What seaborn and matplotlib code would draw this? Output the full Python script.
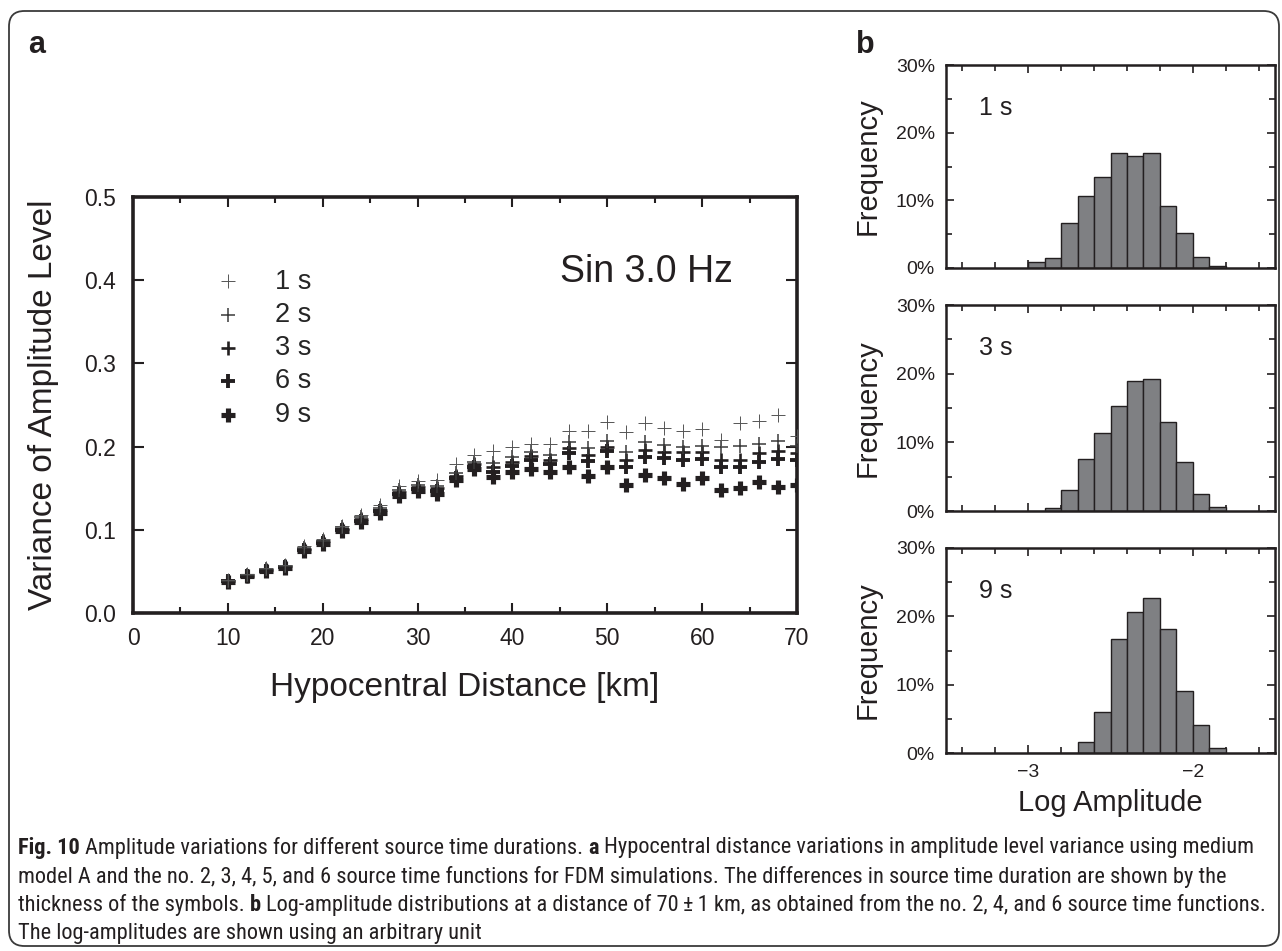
import numpy as np
import pandas as pd
import matplotlib
matplotlib.use("Agg")
import matplotlib.pyplot as plt
import seaborn as sns
from matplotlib.ticker import MultipleLocator, FixedLocator, PercentFormatter, FormatStrFormatter
from matplotlib.patches import FancyBboxPatch
from matplotlib import font_manager

# ---------------- data ----------------
distance_km = [10, 12, 14, 16, 18, 20, 22, 24, 26, 28, 30, 32, 34, 36, 38, 40,
               42, 44, 46, 48, 50, 52, 54, 56, 58, 60, 62, 64, 66, 68, 70]

var_1s = [0.040, 0.047, 0.054, 0.058, 0.080, 0.089, 0.105, 0.118, 0.130, 0.153, 0.159,
          0.160, 0.179, 0.190, 0.195, 0.199, 0.203, 0.203, 0.219, 0.219, 0.229, 0.218,
          0.228, 0.222, 0.219, 0.221, 0.208, 0.228, 0.231, 0.238, 0.213]
var_2s = [0.039, 0.046, 0.053, 0.057, 0.078, 0.087, 0.103, 0.115, 0.126, 0.148, 0.154,
          0.153, 0.168, 0.182, 0.180, 0.187, 0.193, 0.190, 0.205, 0.198, 0.207, 0.193,
          0.205, 0.202, 0.200, 0.201, 0.200, 0.201, 0.203, 0.207, 0.201]
var_3s = [0.039, 0.045, 0.052, 0.056, 0.077, 0.086, 0.101, 0.113, 0.124, 0.145, 0.151,
          0.150, 0.165, 0.179, 0.175, 0.182, 0.189, 0.184, 0.198, 0.190, 0.199, 0.184,
          0.196, 0.194, 0.193, 0.193, 0.184, 0.184, 0.192, 0.195, 0.192]
var_6s = [0.038, 0.045, 0.051, 0.055, 0.076, 0.084, 0.100, 0.111, 0.122, 0.143, 0.149,
          0.147, 0.162, 0.176, 0.170, 0.177, 0.184, 0.179, 0.192, 0.183, 0.195, 0.175,
          0.187, 0.186, 0.184, 0.185, 0.176, 0.176, 0.182, 0.185, 0.184]
var_9s = [0.037, 0.044, 0.050, 0.054, 0.075, 0.083, 0.099, 0.109, 0.120, 0.141, 0.147,
          0.143, 0.160, 0.173, 0.163, 0.169, 0.173, 0.170, 0.175, 0.165, 0.175, 0.154,
          0.166, 0.162, 0.155, 0.162, 0.148, 0.150, 0.157, 0.152, 0.154]

durations = ["1 s", "2 s", "3 s", "6 s", "9 s"]

bin_edges = [-3.0, -2.9, -2.8, -2.7, -2.6, -2.5, -2.4, -2.3, -2.2, -2.1, -2.0, -1.9, -1.8]
bin_centers = [-2.95, -2.85, -2.75, -2.65, -2.55, -2.45, -2.35, -2.25, -2.15, -2.05, -1.95, -1.85]
freq_1s = [0.9, 1.5, 6.6, 10.6, 13.5, 17.0, 16.5, 17.0, 9.2, 5.2, 1.6, 0.3]
freq_3s = [0.0, 0.5, 3.1, 7.6, 11.4, 15.3, 19.0, 19.2, 12.9, 7.2, 2.5, 0.6]
freq_9s = [0.0, 0.0, 0.0, 1.6, 6.0, 16.7, 20.7, 22.7, 18.2, 9.1, 4.1, 0.8]
hist_labels = ["1 s", "3 s", "9 s"]

caption_lines = [
    [("Fig. 10", "bold"), ("Amplitude variations for different source time durations.", "normal"),
     ("a", "bold"), ("Hypocentral distance variations in amplitude level variance using medium", "normal")],
    [("model A and the no. 2, 3, 4, 5, and 6 source time functions for FDM simulations. "
      "The differences in source time duration are shown by the", "normal")],
    [("thickness of the symbols.", "normal"), ("b", "bold"),
     ("Log-amplitude distributions at a distance of 70\u2009\u00b1\u20091 km, as obtained from the no. 2, 4, and 6 "
      "source time functions.", "normal")],
    [("The log-amplitudes are shown using an arbitrary unit", "normal")],
]

# ---------------- style ----------------
sns.set_theme(style="ticks")
entries = font_manager.fontManager.ttflist
avail = {f.name for f in entries}
main_font = "Liberation Sans" if "Liberation Sans" in avail else "DejaVu Sans"

COND = ("condensed", "semi-condensed", "extra-condensed")


def wnum(w):
    if isinstance(w, (int, float)):
        return int(w)
    return {"normal": 400, "regular": 400, "book": 400, "bold": 700}.get(str(w).lower(), 0)


def is_cond(f):
    return str(f.stretch) in COND or "Narrow" in f.name or "Condensed" in f.name


regular = [f for f in entries if is_cond(f) and wnum(f.weight) == 400 and f.style == "normal"]
bold = [f for f in entries if is_cond(f) and wnum(f.weight) == 700 and f.style == "normal"]
cap_font, cap_stretch = main_font, "normal"
pref = ["Liberation Sans Narrow", "Open Sans", "Noto Sans", "Roboto", "Open Sans Condensed",
        "Roboto Condensed", "Inter"]
cands = sorted(regular, key=lambda f: pref.index(f.name) if f.name in pref else 99)
for f in cands:
    if any(b.name == f.name and str(b.stretch) == str(f.stretch) for b in bold):
        cap_font = f.name
        cap_stretch = str(f.stretch) if str(f.stretch) in COND else "normal"
        break

plt.rcParams["font.family"] = [main_font, "DejaVu Sans"]
INK = "#231f20"

W, H = 1282, 951
fig = plt.figure(figsize=(W / 100, H / 100), dpi=100)
fig.patch.set_facecolor("white")


def fax(x0, y0, x1, y1):
    return [x0 / W, 1 - y1 / H, (x1 - x0) / W, (y1 - y0) / H]


# ---------------- panel a ----------------
ax = fig.add_axes(fax(133, 197, 797, 613))
series = [var_1s, var_2s, var_3s, var_6s, var_9s]
lws = [0.7, 1.1, 1.9, 2.8, 3.7]
cols = ["#555555", "#3a3a3a", INK, INK, INK]
for name, vals, lw, col, z in reversed(list(zip(durations, series, lws, cols, range(5)))):
    sns.scatterplot(x=distance_km, y=vals, marker="+", s=95, linewidth=lw, color=col,
                    label=name, ax=ax, zorder=10 - z)
h, l = ax.get_legend_handles_labels()
order = [l.index(d) for d in durations]
ax.legend([h[i] for i in order], [l[i] for i in order], loc="upper left",
          bbox_to_anchor=(0.1227, 0.828), frameon=False, fontsize=19.5,
          handlelength=1.0, handletextpad=1.24, labelspacing=0.27,
          borderaxespad=0, borderpad=0, scatterpoints=1)

ax.set_xlim(0, 70)
ax.set_ylim(0, 0.5)
ax.xaxis.set_major_locator(MultipleLocator(10))
ax.xaxis.set_minor_locator(MultipleLocator(5))
ax.yaxis.set_major_locator(MultipleLocator(0.1))
ax.yaxis.set_major_formatter(FormatStrFormatter("%.1f"))
ax.tick_params(which="both", direction="in", top=True, right=True, width=1.5,
               color=INK, labelsize=16.5, labelcolor=INK)
ax.tick_params(axis="y", which="major", length=8, pad=12)
ax.tick_params(axis="x", which="major", length=7, pad=10)
ax.tick_params(which="minor", length=4)
for sp in ax.spines.values():
    sp.set_linewidth(2.6)
    sp.set_color(INK)
ax.set_xlabel("Hypocentral Distance [km]", fontsize=24, color=INK)
ax.set_ylabel("Variance of Amplitude Level", fontsize=24, color=INK)
ax.xaxis.set_label_coords(0.5, -0.18)
ax.xaxis.label.set_va("center")
ax.yaxis.set_label_coords(-0.135, 0.5)
ax.yaxis.label.set_va("center")
ax.text(0.904, 0.82, "Sin 3.0 Hz", transform=ax.transAxes, ha="right", va="center",
        fontsize=27, color=INK)

# ---------------- panel b ----------------
rows = [(65, 268), (305, 511), (548, 753)]
freqs = [freq_1s, freq_3s, freq_9s]
for i, ((y0, y1), fr, lab) in enumerate(zip(rows, freqs, hist_labels)):
    bx = fig.add_axes(fax(946, y0, 1275, y1))
    df = pd.DataFrame({"log_amp": bin_centers, "pct": fr})
    sns.histplot(data=df, x="log_amp", weights="pct", bins=bin_edges, stat="count",
                 color="#7f8083", edgecolor=INK, linewidth=1.0, alpha=1.0, ax=bx)
    bx.set_xlim(-3.5, -1.5)
    bx.set_ylim(0, 30)
    bx.xaxis.set_major_locator(FixedLocator([-3, -2]))
    bx.xaxis.set_minor_locator(FixedLocator([-3.4, -3.2, -2.8, -2.6, -2.4, -2.2, -1.8, -1.6]))
    bx.yaxis.set_major_locator(MultipleLocator(10))
    bx.yaxis.set_minor_locator(MultipleLocator(5))
    bx.yaxis.set_major_formatter(PercentFormatter(decimals=0))
    bx.tick_params(which="both", direction="in", top=True, right=True, width=1.2,
                   color=INK, labelsize=14, labelcolor=INK)
    bx.tick_params(which="major", length=6, pad=8)
    bx.tick_params(which="minor", length=4)
    for sp in bx.spines.values():
        sp.set_linewidth(1.8)
        sp.set_color(INK)
    bx.set_ylabel("Frequency", fontsize=21, color=INK)
    bx.yaxis.set_label_coords(-0.237, 0.5)
    bx.yaxis.label.set_va("center")
    if i < 2:
        bx.set_xlabel("")
        bx.tick_params(axis="x", labelbottom=False)
    else:
        bx.set_xlabel("Log Amplitude", fontsize=21, color=INK)
        bx.xaxis.set_label_coords(0.5, -0.245)
        bx.xaxis.label.set_va("center")
    bx.text(0.10, 0.79, lab, transform=bx.transAxes, ha="left", va="center",
            fontsize=18, color=INK)

# ---------------- panel letters ----------------
fig.text(28 / W, 1 - 53 / H, "a", fontsize=22, fontweight="bold", color=INK, va="baseline")
fig.text(856 / W, 1 - 53 / H, "b", fontsize=22, fontweight="bold", color=INK, va="baseline")

# ---------------- border ----------------
border = FancyBboxPatch((9 / W, 1 - 946 / H), (1279 - 9) / W, (946 - 11) / H,
                        boxstyle="round,pad=0,rounding_size=0.012",
                        mutation_aspect=W / H, transform=fig.transFigure,
                        fill=False, ec="#3a3a3a", lw=1.3)
fig.add_artist(border)

# ---------------- caption ----------------
renderer = fig.canvas.get_renderer()
cap_fam = [cap_font, "DejaVu Sans"]


def measure(txt, size, weight):
    t = fig.text(0, 0, txt, fontsize=size, fontweight=weight, family=cap_fam,
                 fontstretch=cap_stretch)
    w = t.get_window_extent(renderer).width
    t.remove()
    return w


def line_width(segs, size):
    sp = measure("a a", size, "normal") - measure("aa", size, "normal")
    total = sum(measure(s, size, wt) for s, wt in segs)
    return total + sp * (len(segs) - 1), sp


base = 15.0
widest = max(line_width(segs, base)[0] for segs in caption_lines)
cap_size = min(base * (1264 - 18) / widest, 17.5)
ys = [848, 876.5, 905, 933.5]
for segs, yc in zip(caption_lines, ys):
    _, sp = line_width(segs, cap_size)
    x = 18.0
    for s, wt in segs:
        t = fig.text(x / W, 1 - yc / H, s, fontsize=cap_size, fontweight=wt,
                     family=cap_fam, fontstretch=cap_stretch, color=INK,
                     va="center", ha="left")
        x += t.get_window_extent(renderer).width + sp

fig.savefig("out.png", dpi=100, facecolor="white")
